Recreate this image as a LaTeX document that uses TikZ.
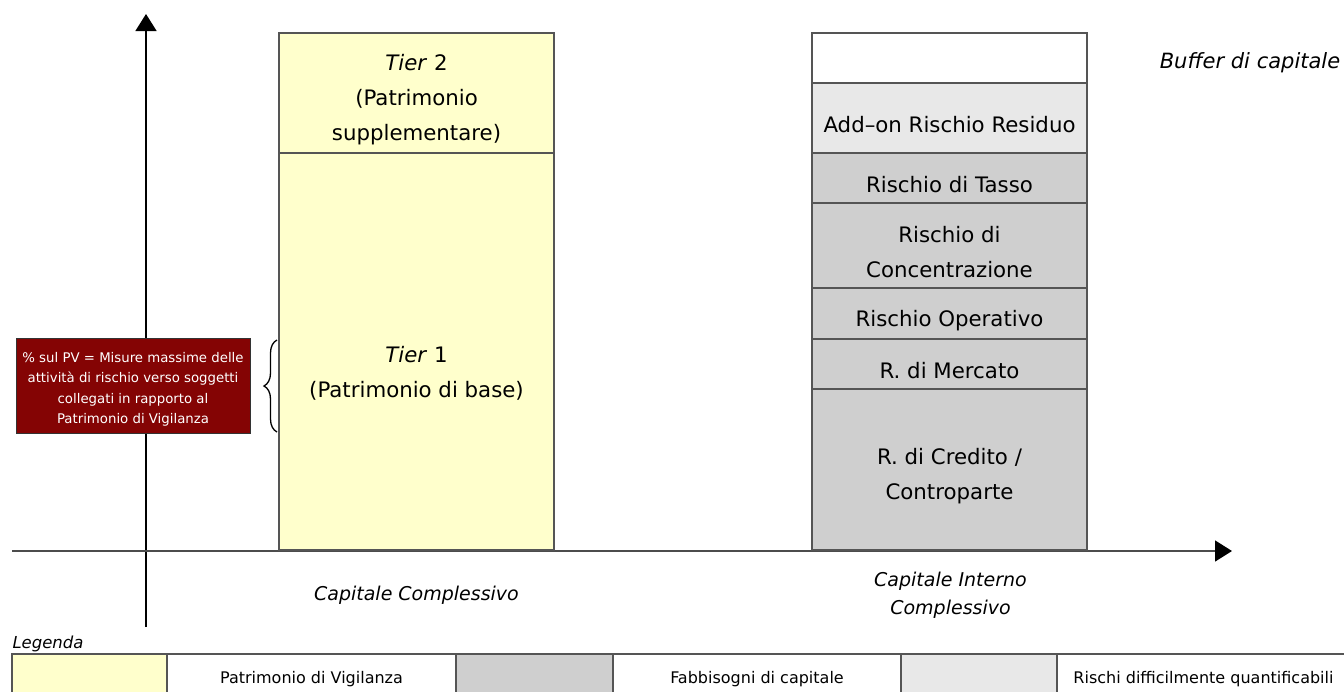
\documentclass[tikz,border=0pt]{standalone}
\usepackage{fontspec}
\setmainfont{DejaVu Sans}
\usetikzlibrary{decorations.pathreplacing,arrows.meta}
\definecolor{giallo}{RGB}{255,255,204}
\definecolor{grigioscuro}{RGB}{207,207,207}
\definecolor{grigiochiaro}{RGB}{232,232,232}
\definecolor{rosso}{RGB}{132,4,4}
\definecolor{bordo}{RGB}{85,85,85}
\tikzset{
    seg/.style={draw=bordo,line width=1.2pt,inner sep=0pt,outer sep=0pt,minimum width=275pt},
    segtxt/.style={align=center,font=\fontsize{21.3}{35}\selectfont,yshift=-7pt},
    cella/.style={draw=bordo,line width=1.2pt,inner sep=0pt,outer sep=0pt,
        minimum height=50pt,font=\fontsize{16}{20}\selectfont},
    etich/.style={align=center,font=\fontsize{19}{28}\selectfont\itshape},
    asse/.style={line width=1.5pt,-{Triangle[length=17pt,width=21pt,color=black]}}
}
\begin{document}
\begin{tikzpicture}[x=1pt,y=-1pt]
    \clip (0,0) rectangle (1344,691);
    \fill[white] (0,0) rectangle (1344,691);
    % assi
    \coordinate (ybase) at (146,627);
    \coordinate (ytop) at (146,14);
    \coordinate (xbase) at (12,551);
    \coordinate (xtop) at (1232,551);
    \draw[asse] (ybase) -- (ytop);
    \draw[asse,draw=black!70] (xbase) -- (xtop);
    % patrimonio
    \node[seg,fill=giallo,minimum height=120pt,
        label={[segtxt]center:{\textit{Tier} 2\\(Patrimonio\\supplementare)}}] (tier2) at (416.5,93) {};
    \node[seg,fill=giallo,minimum height=397pt,
        label={[segtxt,yshift=-15pt]center:{\textit{Tier} 1\\(Patrimonio di base)}}] (tier1) at (416.5,351.5) {};
    % capitale interno
    \node[seg,fill=white,minimum height=50pt] (buffer) at (949.5,58) {};
    \node[seg,fill=grigiochiaro,minimum height=70pt,label={[segtxt]center:Add--on Rischio Residuo}] (addon) at (949.5,118) {};
    \node[seg,fill=grigioscuro,minimum height=50pt,label={[segtxt]center:Rischio di Tasso}] (tasso) at (949.5,178) {};
    \node[seg,fill=grigioscuro,minimum height=85pt,label={[segtxt]center:{Rischio di\\Concentrazione}}] (conc) at (949.5,245.5) {};
    \node[seg,fill=grigioscuro,minimum height=51pt,label={[segtxt]center:Rischio Operativo}] (oper) at (949.5,313.5) {};
    \node[seg,fill=grigioscuro,minimum height=50pt,label={[segtxt]center:R. di Mercato}] (merc) at (949.5,364) {};
    \node[seg,fill=grigioscuro,minimum height=161pt,label={[segtxt]center:{R. di Credito /\\Controparte}}] (cred) at (949.5,469.5) {};
    % riquadro rosso e parentesi
    \node[draw=black!80,line width=1pt,fill=rosso,minimum width=234pt,minimum height=95pt,inner sep=0pt,
        label={[text=white,align=center,font=\fontsize{13.3}{20.5}\selectfont,yshift=-4pt]center:{\% sul PV = Misure massime delle\\attività di rischio verso soggetti\\collegati in rapporto al\\Patrimonio di Vigilanza}}]
        (misure) at (133,385.5) {};
    \coordinate (grbasso) at (277,432);
    \coordinate (gralto) at (277,340);
    \draw[line width=1.3pt,decorate,decoration={brace,amplitude=13pt}] (grbasso) -- (gralto);
    % etichette
    \node[etich] (buflab) at (1250,63) {\fontsize{21}{27}\selectfont Buffer di capitale};
    \node[etich] (cclab) at (416.5,595) {Capitale Complessivo};
    \node[etich] (cilab) at (950.5,595) {Capitale Interno\\Complessivo};
    % legenda
    \node[font=\fontsize{16.5}{20}\selectfont\itshape,anchor=west] (legenda) at (9,644) {Legenda};
    \foreach \nome/\x/\w/\col/\testo in {
        lgiallo/89.5/155/giallo/,
        lpatr/311.5/289/white/Patrimonio di Vigilanza,
        lscuro/534.5/157/grigioscuro/,
        lfabb/757/288/white/Fabbisogni di capitale,
        lchiaro/979/156/grigiochiaro/,
        lrischi/1203.5/293/white/Rischi difficilmente quantificabili}
    {
        \node[cella,fill=\col,minimum width=\w pt] (\nome) at (\x,679) {\testo};
    }
\end{tikzpicture}
\end{document}
